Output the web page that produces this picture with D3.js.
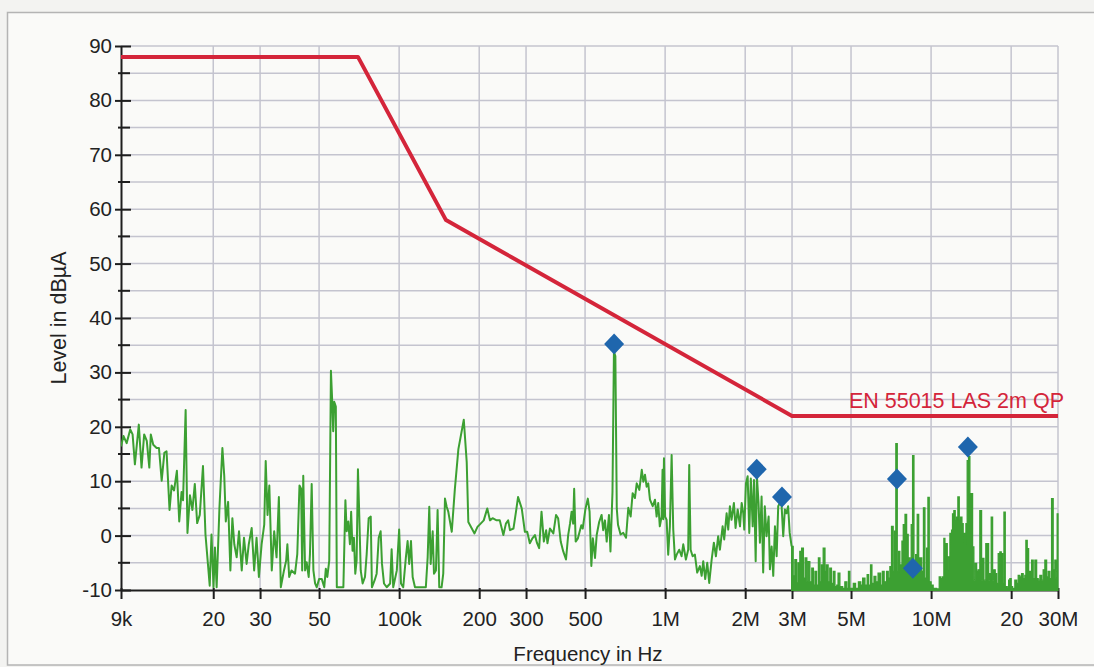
<!DOCTYPE html>
<html><head><meta charset="utf-8">
<script src="https://cdn.jsdelivr.net/npm/d3@7"></script>
<style>
html,body{margin:0;padding:0;background:#f3f3f1;}
svg{display:block;}
text{font-family:"Liberation Sans",Arial,sans-serif;}
</style></head>
<body><svg id="c" width="1094" height="667"></svg>
<script>
// ---- data (frequency in kHz, level in dBµA) ----
const traceFreqKHz = [
  9.0, 9.2, 9.45, 9.75, 9.95, 10.15, 10.5, 10.75, 11.0, 11.25,
  11.5, 11.65, 11.9, 12.25, 12.5, 12.8, 13.1, 13.35, 13.7, 13.95,
  14.25, 14.6, 14.9, 15.2, 15.4, 15.75, 16.0, 16.35, 16.7, 17.05,
  17.4, 17.8, 18.3, 18.7, 19.1, 19.4, 19.7, 20.05, 20.3, 20.6,
  21.1, 21.65, 22.0, 22.3, 22.75, 23.2, 23.6, 24.0, 24.5, 25.0,
  25.6, 26.1, 26.7, 27.2, 27.9, 28.5, 29.1, 29.7, 30.4, 31.1,
  31.5, 32.0, 32.5, 33.2, 33.9, 34.6, 35.3, 35.9,
  36.9, 37.6, 38.0, 38.6, 39.4, 40.6, 41.4, 42.2, 42.8, 43.2,
  43.6, 44.3, 44.9, 45.7, 46.2, 46.9, 47.6, 48.3, 49.0, 50.0,
  51.2, 52.3, 53.0, 53.7, 54.6, 55.4, 56.0, 56.5, 57.0, 57.8,
  58.3, 59.6, 61.7, 62.8, 63.5, 64.4, 65.3, 66.0, 66.8, 67.6,
  68.4, 69.2, 70.0, 70.8, 71.7, 72.9, 74.4, 75.5, 76.8, 78.2,
  79.0, 80.9, 82.3, 83.8, 85.2, 86.2, 87.7, 89.8, 92.5, 93.7,
  95.0, 98.0, 100, 101.6, 103.6, 106, 107.6, 109.1, 110.8, 112.4,
  114.7, 119.7, 126, 128, 129.8, 131.4, 133.7, 135.2, 137.5, 139.5,
  141.5, 144.4, 146.5, 148.7, 150.9,
  153, 157.7, 162, 167, 175, 179.5, 182, 187.6, 192, 197,
  202.5, 208, 214.5, 219.5, 224.5, 232.5, 239, 246.5, 252, 257,
  261, 269, 275, 280, 289, 297, 303, 310, 317, 324,
  330, 336, 343, 350, 357, 361, 369, 380, 389, 396,
  405, 414, 424, 432, 439, 445, 451, 455, 461, 470,
  484, 490, 502, 512, 520, 528, 535, 545, 553, 565,
  577, 585, 594, 603, 615, 623, 634, 642, 650, 658,
  665, 680, 696, 713,
  727, 742, 755, 770, 782, 800, 817, 828, 840, 852,
  864, 877, 898, 916, 929, 942, 955, 970, 978, 984, 990,
  1000, 1013, 1027, 1042, 1058, 1073, 1089, 1105, 1130, 1153,
  1170, 1197, 1221, 1232, 1247, 1269, 1294, 1320, 1351, 1372,
  1391, 1415, 1440, 1465, 1496, 1525, 1552, 1583, 1607, 1645,
  1668, 1703, 1727, 1752, 1777, 1814, 1840, 1874, 1912, 1940,
  1967, 1984, 2013, 2043, 2072, 2100, 2134, 2158, 2190, 2213,
  2245, 2272, 2305, 2337, 2370, 2406, 2450, 2477, 2515, 2550,
  2588, 2626, 2662, 2700, 2741, 2780, 2820, 2860, 2900, 2940,
  2990,
  3030, 3075, 3120, 3160, 3210, 3260, 3310, 3360, 3410, 3450,
  3500, 3560, 3610, 3660, 3710, 3770, 3820, 3870, 3930, 3990,
  4040, 4100, 4160, 4220, 4290, 4350, 4420, 4470, 4540, 4650,
  4740, 4820, 4890, 4950, 5100, 5200, 5330, 5440, 5530, 5640,
  5750, 5820, 5920, 5990, 6100, 6200, 6320, 6460, 6560, 6660,
  6800, 6900, 7000, 7100, 7200, 7290, 7370, 7460, 7550, 7630,
  7770, 7860, 7980, 8090, 8200, 8320, 8420, 8520, 8620, 8750,
  8870, 8980, 9080, 9220, 9360, 9480, 9620, 9730, 9840, 10000,
  10180, 10490,
  10730, 10890, 11050, 11170, 11270, 11370, 11500, 11600, 11770, 11940,
  12040, 12180, 12320, 12470, 12610, 12760, 12910, 13060, 13200, 13370,
  13520, 13670, 13830, 13990, 14150, 14320, 14480, 14650, 14830, 15030,
  15250, 15480, 15620, 15800, 16060, 16260, 16450, 16640, 16830, 17030,
  17220, 17420, 17630, 17880, 18140, 18350, 18570, 18790, 19000, 19330,
  19570, 19780, 20000, 20240, 20650, 20970, 21260, 21570, 21890, 22190,
  22520, 22720, 22980, 23260, 23520, 23870, 24200, 24560, 24930, 25270,
  25650, 26030, 26390, 26780, 27180, 27560, 27970, 28380, 28770, 29200,
  29450, 29790, 30000
];
const traceLevel = [
  16.4, 18.3, 17, 19.5, 18.6, 13.1, 20.4, 12.5, 18.6, 17.4,
  12.5, 18.6, 16.7, 16.1, 16.1, 10.1, 15.2, 15.5, 4.7, 9.2,
  8.3, 11.9, 2.6, 8.0, 6.5, 23.1, 0.5, 7.4, 4.7, 9.5,
  2.3, 3.8, 12.8, 0.2, -5.2, -9.2, 0.2, -9.5, -2.2, -9.5,
  5, 16.1, 11, 2.6, 6.2, -6.4, 3.2, -1.6, -4, 0.8,
  -6.4, -0.4, -5.2, -1.6, 1.4, -6.4, -0.4, -7.6, -1.6, 2,
  13.7, 3.8, 9.2, -6.4, 0.8, -4, 7.1, -9.5,
  -6.4, -4.6, -1.6, -7.6, -6.4, -7, -3.4, 9.2, 8.6, -6.4,
  11, -6.4, -4.9, -7.6, -3.4, 9.5, -6.4, -8.8, -9.5, -8,
  -8, -9.5, -6.1, -7.6, -4.6, 30.3, 24.9, 19.2, 24.6, 23.7,
  -9.5, -9.5, -9.5, 6.5, 0.8, 2.6, -1.6, 4.4, -2.8, -0.4,
  -7, -4.6, 12.2, 3.8, -6.4, -8.8, -7.6, -3.4, 3.2, 3.5,
  -9.5, -8.2, -7, -0.4, 0.8, -5.2, -8.8, -9.5, -8.8, -2.5,
  -9.5, -6.4, 1.1, -8.8, -9.5, -4, -1, -5.2, -1, -7.6,
  -9.5, -9.5, -9.5, -4, 5.3, -5.2, 0.8, -7, -6.4, 4.7,
  -9.5, -9.5, -7, 6.8, 5.3,
  4.4, 0.7, 8.6, 15.9, 21.3, 13.5, 2.5, 1.3, 0.4, 1.6,
  2.2, 2.8, 5, 2.8, 3.2, 2.8, 2.8, 0.1, 2.2, 2.8,
  1, 1.3, 4.4, 7.1, 5, 0.7, 0.7, -1.4, -0.5, 0.1,
  -1.4, -2.3, 4.4, -1.1, 1, -1.4, 1.3, 0.4, 3.8, 3.2,
  -1.1, -2.9, -4.4, 0.1, 2.2, 4.4, 2.2, 8.6, -1.1, -0.5,
  1.9, 1.3, 5, 6.8, 4.4, -5.6, -0.5, -4.1, 0.1, 2.5,
  3.8, 1, 2.8, -1.1, 3.8, -2.9, 8, 33.8, 33, 5,
  2, 0.2, 0.5, -0.4,
  5.1, 3.5, 7.8, 6.9, 9.6, 8.4, 12.1, 9.9, 11.2, 9,
  9.6, 6.6, 5.4, 6.6, 3.5, 6, 1.7, 3.5, 12.1, 3, 14.2,
  3.5, 2.9, -3.5, 1.7, 14.8, 1.1, -4.4, -3.5, -2.6, -3.8,
  -1.6, -4.4, -2.6, 13, -2.6, -3.8, -3.5, -6.8, -5.6, -7.4,
  -4.7, -8, -5, -8.7, -4.4, -1.3, -3.8, -0.1, -2.6, 1.7,
  -0.7, 4.1, 1.1, 5.4, 2.9, 6, 1.4, 4.8, 1.7, 6,
  4.1, 1.1, 9.6, 10.9, 0.5, 10.5, 1.7, 10.2, -4.7, 11,
  6, -1.3, 7.2, -6.8, 5.4, -0.1, 3.5, -6.2, -2, -7.4,
  1.7, -3.8, 5.4, 6, 5.5, -0.1, 4.8, 4.1, 5.4, 0.5,
  -2,
  -7.4, -4.4, -8.7, -5, -2.9, -2.3, -7.8, -4.1, -8.5, -4.8,
  -8.5, -6, -9.1, -6.6, -9.1, -4.1, -8.5, -5.4, -2.3, -6.6,
  -5.4, -8.5, -6, -8.8, -6.6, -9.4, -9.1, -6.9, -9.4, -9.7,
  -8.5, -9.7, -6.6, -9.7, -8.8, -9.7, -8.5, -9.1, -7.8, -9.1,
  -7.2, -9.1, -5.4, -8.8, -7.5, -8.5, -6.9, -9.1, -6.6, -8.5,
  -6.6, -7.8, -5.7, 1.7, -6.6, 0.8, 16.9, -6.6, -2.9, -5.4,
  -1, 2, 3.9, 0.2, -4.1, -5.4, 2, 14.7, -6.6, -3.5,
  3.9, -6.6, -4.1, -6.6, 5.1, -7.8, -2.3, 7, -8.5, -9.1,
  -9.7, -9.8,
  -7.6, -7.9, -7.6, -0.5, -2.7, -1.5, -6.3, -3.9, 0.4, 1,
  4, 4.6, 2.8, 3.4, 7.1, 2.8, 3.4, 2.2, 0.4, -1.5,
  2.2, 13.8, 14.5, 7.7, 7.7, -2.1, -8.2, -5.1, -6.6, -6.3,
  4.6, -8.2, -4.2, -8.2, -1.5, -1.5, -8.2, -7, 3.4, -8.2,
  -6.3, -7, -8.8, -3.3, -3, -3.3, -8.8, 4.3, -9.4, -9.7,
  -8.2, -7.9, -9.4, -9.7, -8.2, -8.8, -7.3, -7.6, -7, -7.9,
  -7.3, -0.9, -2.4, -7.6, -6.6, -4.5, -7.9, -4.5, -7.9, -8.2,
  -7.3, -8.2, -6.3, -4.5, -7.6, -6.6, -7.9, 6.8, -6.3, -4.5,
  -7.9, 4, 2.2
];
const limitFreqKHz = [9, 70, 150, 3000, 30000];
const limitLevel = [88, 88, 58, 22, 22];
const markerFreqKHz = [643, 2210, 2750, 7440, 8540, 13750];
const markerLevel = [35.2, 12.2, 7.1, 10.4, -6.0, 16.3];
const xTickValuesKHz = [9, 20, 30, 50, 100, 200, 300, 500, 1000, 2000, 3000, 5000, 10000, 20000, 30000];
const xTickLabels = ["9k", "20", "30", "50", "100k", "200", "300", "500", "1M", "2M", "3M", "5M", "10M", "20", "30M"];
const yTickValues = [-10, 0, 10, 20, 30, 40, 50, 60, 70, 80, 90];
const yMinorValues = [-5, 5, 15, 25, 35, 45, 55, 65, 75, 85];
const limitLabel = "EN 55015 LAS 2m QP";
const xTitle = "Frequency in Hz";
const yTitle = "Level in dBµA";
const fillStartKHz = 2990;

// ---- drawing ----
const svg = d3.select("#c");
const W = 1094, H = 667;
const x = d3.scaleLog().domain([9, 30000]).range([121, 1058]);
const y = d3.scaleLinear().domain([-10, 90]).range([590, 46]);

const GREEN = "#3ca032", RED = "#d4253a", BLUE = "#1f66ad", GRID = "#c4c4cf";
const INK = "#1e1e1e";

// frame
svg.append("rect").attr("x", 0).attr("y", 0).attr("width", W).attr("height", H).attr("fill", "#f3f3f1");
svg.append("rect").attr("x", 7.5).attr("y", 12.5).attr("width", 1100).attr("height", 652.5)
  .attr("fill", "#fafaf8").attr("stroke", "#b4b4b4").attr("stroke-width", 1.5);

// grid
const grid = svg.append("g");
const hVals = yTickValues.concat(yMinorValues).filter(v => v > -10);
grid.selectAll("line.h").data(hVals).join("line")
  .attr("x1", x(9)).attr("x2", x(30000)).attr("y1", d => y(d)).attr("y2", d => y(d))
  .attr("stroke", GRID).attr("stroke-width", 1.5);
grid.selectAll("line.v").data(xTickValuesKHz.filter(v => v > 9)).join("line")
  .attr("x1", d => x(d)).attr("x2", d => x(d)).attr("y1", y(90)).attr("y2", y(-10))
  .attr("stroke", GRID).attr("stroke-width", 1.5);

// axes
const yAxis = d3.axisLeft(y).tickValues(yTickValues).tickSize(6).tickPadding(3).tickSizeOuter(0)
  .tickFormat(d => String(d));
const gy = svg.append("g").attr("transform", `translate(${x(9)},0)`).call(yAxis);
gy.select(".domain").attr("stroke", INK).attr("stroke-width", 2);
gy.selectAll(".tick line").attr("x1", 10).attr("stroke", INK).attr("stroke-width", 2);
gy.selectAll(".tick text").attr("font-size", 20.5).attr("fill", "#222").attr("font-family", "Liberation Sans, Arial, sans-serif");
svg.append("g").selectAll("line").data(yMinorValues).join("line")
  .attr("x1", x(9) - 3).attr("x2", x(9) + 9).attr("y1", d => y(d)).attr("y2", d => y(d))
  .attr("stroke", INK).attr("stroke-width", 2);

const xAxis = d3.axisBottom(x).tickValues(xTickValuesKHz).tickSize(9).tickPadding(12).tickSizeOuter(0)
  .tickFormat((d, i) => xTickLabels[i]);
const gx = svg.append("g").attr("transform", `translate(0,${y(-10)})`).call(xAxis);
gx.select(".domain").attr("stroke", INK).attr("stroke-width", 2);
gx.selectAll(".tick line").attr("y1", -2).attr("stroke", INK).attr("stroke-width", 2);
gx.selectAll(".tick text").attr("font-size", 20.5).attr("fill", "#222").attr("font-family", "Liberation Sans, Arial, sans-serif");

// titles
svg.append("text").attr("x", 588).attr("y", 661).attr("text-anchor", "middle")
  .attr("font-size", 20.5).attr("fill", "#222").text(xTitle);
svg.append("text").attr("transform", "translate(66,318) rotate(-90)").attr("text-anchor", "middle")
  .attr("font-size", 21.5).attr("fill", "#222").text(yTitle);

// trace
const pts = traceFreqKHz.map((f, i) => ({ f, v: traceLevel[i] }));
const linePts = pts.filter(p => p.f <= fillStartKHz);
const fillPts = pts.filter(p => p.f >= fillStartKHz);
svg.append("defs").append("clipPath").attr("id", "pc").append("rect")
  .attr("x", x(9)).attr("y", y(90) - 2).attr("width", x(30000) - x(9) + 1).attr("height", y(-10) - y(90) + 3);
const tg = svg.append("g").attr("clip-path", "url(#pc)");
tg.append("path").datum(linePts)
  .attr("d", d3.line().x(d => x(d.f)).y(d => y(d.v)))
  .attr("fill", "none").attr("stroke", GREEN).attr("stroke-width", 2).attr("stroke-linejoin", "round");
tg.append("path").datum(fillPts)
  .attr("d", d3.area().x(d => x(d.f)).y0(y(-10) + 1).y1(d => y(d.v)).curve(d3.curveStepAfter))
  .attr("fill", GREEN).attr("stroke", GREEN).attr("stroke-width", 1.3);

// limit line
const lim = limitFreqKHz.map((f, i) => ({ f, v: limitLevel[i] }));
svg.append("path").datum(lim)
  .attr("d", d3.line().x(d => x(d.f)).y(d => y(d.v)))
  .attr("fill", "none").attr("stroke", RED).attr("stroke-width", 4).attr("stroke-linejoin", "round");
svg.append("text").attr("x", 1064).attr("y", 408).attr("text-anchor", "end")
  .attr("font-size", 21.5).attr("fill", RED).text(limitLabel);

// markers
const mk = markerFreqKHz.map((f, i) => ({ f, v: markerLevel[i] }));
svg.append("g").selectAll("path").data(mk).join("path")
  .attr("transform", d => `translate(${x(d.f)},${y(d.v)})`)
  .attr("d", "M0,-10.5L10,0L0,10.5L-10,0Z")
  .attr("fill", BLUE);
</script>
</body></html>
